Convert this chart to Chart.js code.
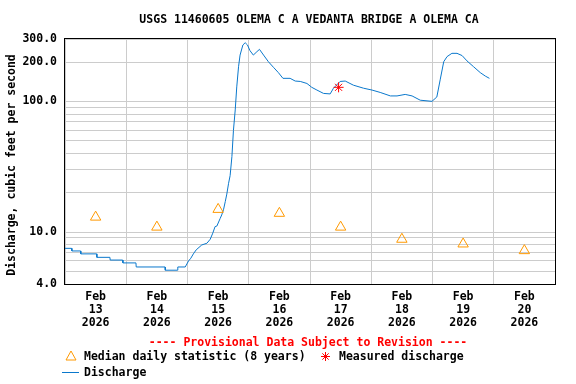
<!DOCTYPE html>
<html>
<head>
<meta charset="utf-8">
<script src="https://cdn.jsdelivr.net/npm/chart.js@4.4.1/dist/chart.umd.min.js"></script>
<style>
  body { margin: 0; background: #fff; }
</style>
</head>
<body>
<canvas id="discharge_chart" width="576" height="384"></canvas>
<script>
// Data (hours since Feb 13 2026 00:00)

const titleText = 'USGS 11460605 OLEMA C A VEDANTA BRIDGE A OLEMA CA';
const yTitleText = 'Discharge, cubic feet per second';
const dayLabels = ['13', '14', '15', '16', '17', '18', '19', '20'];

const dischargeHours = [0, 2.6, 2.7, 6.1, 6.2, 12.4, 12.5, 17.6, 17.7, 22.6, 22.7, 27.8, 27.9, 39.2, 39.3, 44.1, 44.2, 47.1,
    48.4, 49.3, 50.3, 51.4, 53.6, 55.6, 56.9, 57.9, 58.8, 59.5, 60.8, 61.4, 62.1, 62.8, 63.4, 64.1, 64.7, 65.4, 66, 66.7,
    67.3, 68, 68.6, 69.7, 70.6, 71.5, 72.5, 73.8, 75.2, 76.2, 77.8, 79.7, 81.7, 83.6, 85.4, 88.2, 90.2, 92.2, 94.8, 96.7,
    98.7, 101.3, 103.9, 105.2, 107.8, 109.8, 113, 117, 120.3, 123.5, 127.5, 130.1, 133.3, 136, 139.2, 143.8, 145.7, 147,
    148.4, 149.7, 151.6, 153.6, 155.6, 157.5, 160.1, 162.7, 164.7, 166.3];
const dischargeValues = [7.5, 7.5, 7.16, 7.16, 6.8, 6.8, 6.4, 6.4, 6.1, 6.1, 5.8, 5.8, 5.4, 5.4, 5.1, 5.1, 5.4, 5.4,
    6.0, 6.3, 6.8, 7.3, 7.96, 8.2, 8.8, 9.8, 11, 11.1, 12.7, 13.5, 14.8, 17.1, 19.5, 23.6, 27, 37.8, 60, 86,
    129, 184, 226, 270, 281, 270, 244, 226, 240, 250, 226, 201, 182, 166, 150, 150, 143, 142, 137, 128,
    122, 115, 114, 126, 142, 143, 133, 126, 122, 117, 110, 110, 113, 110, 102, 100, 108, 146,
    201, 220, 233, 233, 224, 204, 184, 166, 156, 150];

const medianHours = [12, 36, 60, 84, 108, 132, 156, 180];
const medianValues = [13.0, 10.9, 14.9, 13.9, 10.9, 8.8, 8.1, 7.2];

const measuredHours = [107.2];
const measuredValues = [128];

const yGridValues = [4, 5, 6, 7, 8, 9, 10, 20, 30, 40, 50, 60, 70, 80, 90, 100, 200, 300];
const yLabelValues = [4, 10, 100, 200, 300];
const xTickHours = [0, 12, 24, 36, 48, 60, 72, 84, 96, 108, 120, 132, 144, 156, 168, 180, 192];

const monoFont = '"DejaVu Sans Mono", monospace';
const textFont = 'bold 11.5px ' + monoFont;
const lineColor = '#0a78cc';
const medianColor = '#ff9900';

const toPoints = (xs, ys) => xs.map((x, i) => ({ x: x, y: ys[i] }));

// Titles, frame and custom legend

const frameAndLegend = {
    id: 'frameAndLegend',
    afterDraw(chart) {
        const ctx = chart.ctx;
        const a = chart.chartArea;
        ctx.save();
        ctx.strokeStyle = '#000';
        ctx.lineWidth = 1;
        ctx.strokeRect(Math.round(a.left) - 0.5, Math.round(a.top) - 0.5,
            Math.round(a.right - a.left) + 1, Math.round(a.bottom - a.top) + 1);

        ctx.font = textFont;
        ctx.textBaseline = 'middle';
        ctx.textAlign = 'center';
        ctx.fillStyle = '#000';
        ctx.fillText(titleText, 309, 20);

        ctx.save();
        ctx.translate(12, 165);
        ctx.rotate(-Math.PI / 2);
        ctx.fillText(yTitleText, 0, 0);
        ctx.restore();

        ctx.fillStyle = '#ff0000';
        ctx.fillText('---- Provisional Data Subject to Revision ----', 308, 343);

        ctx.textAlign = 'left';
        ctx.fillStyle = '#000';
        ctx.fillText('Median daily statistic (8 years)', 84, 357);
        ctx.fillText('Measured discharge', 339, 357);
        ctx.fillText('Discharge', 84, 373);

        // triangle
        ctx.strokeStyle = medianColor;
        ctx.beginPath();
        ctx.moveTo(71, 351);
        ctx.lineTo(76, 360);
        ctx.lineTo(66, 360);
        ctx.closePath();
        ctx.stroke();

        // star
        ctx.strokeStyle = '#ff0000';
        ctx.beginPath();
        const sx = 325.5, sy = 356.5, r = 4.5, d = r * 0.707;
        ctx.moveTo(sx - r, sy); ctx.lineTo(sx + r, sy);
        ctx.moveTo(sx, sy - r); ctx.lineTo(sx, sy + r);
        ctx.moveTo(sx - d, sy - d); ctx.lineTo(sx + d, sy + d);
        ctx.moveTo(sx - d, sy + d); ctx.lineTo(sx + d, sy - d);
        ctx.stroke();

        // line
        ctx.strokeStyle = lineColor;
        ctx.beginPath();
        ctx.moveTo(62, 372.5);
        ctx.lineTo(79, 372.5);
        ctx.stroke();
        ctx.restore();
    }
};

// Chart

const discharge_chart = new Chart(document.getElementById('discharge_chart'), {
    type: 'scatter',
    data: {
        datasets: [{
            label: 'Median daily statistic (8 years)',
            data: toPoints(medianHours, medianValues),
            pointStyle: 'triangle',
            pointRadius: 6,
            borderColor: medianColor,
            backgroundColor: 'rgba(0,0,0,0)',
            borderWidth: 1
        }, {
            label: 'Measured discharge',
            data: toPoints(measuredHours, measuredValues),
            pointStyle: 'star',
            pointRadius: 5,
            borderColor: '#ff0000',
            backgroundColor: '#ff0000',
            borderWidth: 1
        }, {
            label: 'Discharge',
            type: 'line',
            data: toPoints(dischargeHours, dischargeValues),
            borderColor: lineColor,
            borderWidth: 1,
            pointRadius: 0,
            tension: 0,
            fill: false
        }]
    },
    options: {
        responsive: false,
        animation: false,
        layout: {
            autoPadding: false,
            padding: { left: 0, right: 21, top: 39, bottom: 0 }
        },
        plugins: {
            legend: { display: false },
            tooltip: { enabled: false },
            title: { display: false }
        },
        scales: {
            x: {
                type: 'linear',
                min: 0,
                max: 192,
                afterBuildTicks: (scale) => {
                    scale.ticks = xTickHours.map(v => ({ value: v }));
                },
                afterFit: (scale) => { scale.height = 100; },
                grid: {
                    drawTicks: false,
                    color: (ctx) => (ctx.tick && ctx.tick.value % 24 === 0) ? '#cccccc' : 'rgba(0,0,0,0)'
                },
                border: { display: false },
                ticks: {
                    autoSkip: false,
                    maxRotation: 0,
                    padding: 6,
                    color: '#000',
                    font: { family: monoFont, size: 11.5, weight: 'bold', lineHeight: 1.15 },
                    callback: (value) => value % 24 === 12 ? ['Feb', dayLabels[(value - 12) / 24], '2026'] : ''
                }
            },
            y: {
                type: 'logarithmic',
                min: 4,
                max: 300,
                afterBuildTicks: (scale) => {
                    scale.ticks = yGridValues.map(v => ({ value: v }));
                },
                afterFit: (scale) => { scale.width = 65; },
                grid: {
                    drawTicks: false,
                    color: '#cccccc'
                },
                border: { display: false },
                ticks: {
                    autoSkip: false,
                    padding: 8,
                    color: '#000',
                    font: { family: monoFont, size: 11.5, weight: 'bold' },
                    callback: (value) => yLabelValues.includes(value) ? value.toFixed(1) : ''
                }
            }
        }
    },
    plugins: [frameAndLegend]
});
</script>
</body>
</html>
